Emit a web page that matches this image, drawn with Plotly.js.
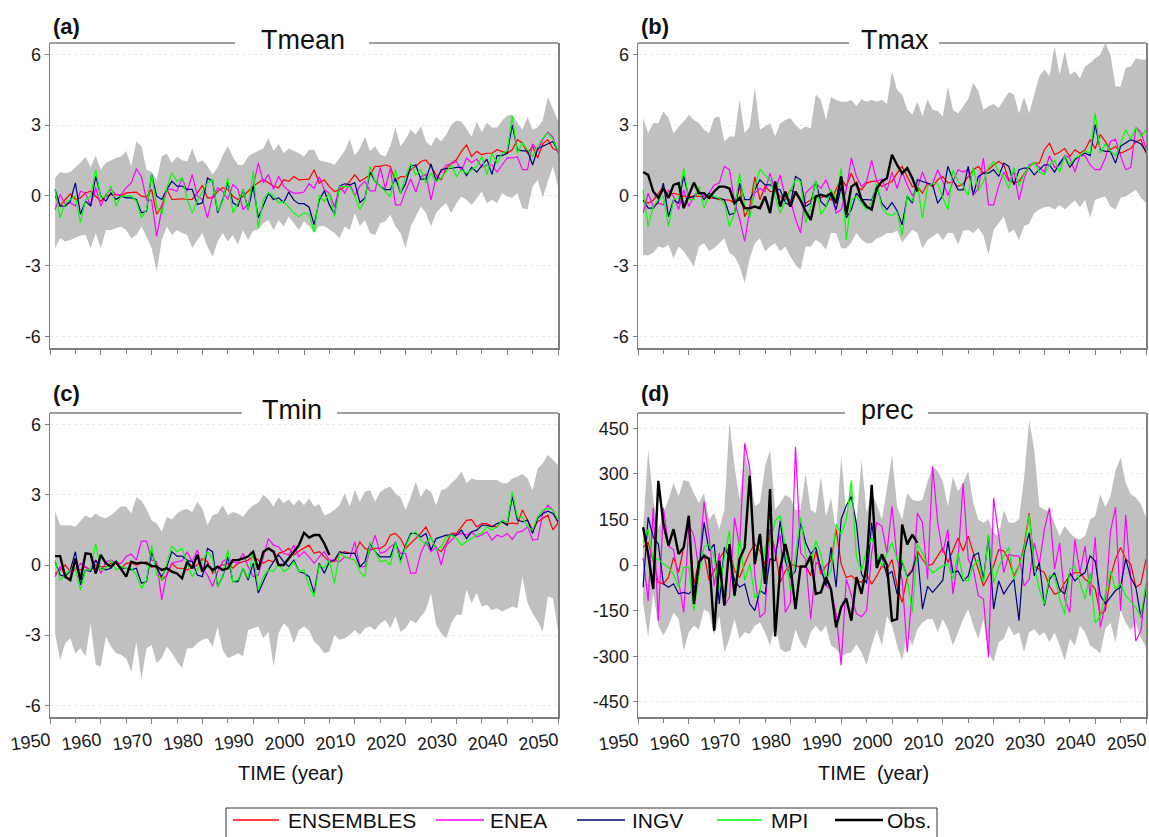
<!DOCTYPE html>
<html><head><meta charset="utf-8">
<script src="https://cdn.plot.ly/plotly-3.0.1.min.js"></script>
<style>html,body{margin:0;padding:0;background:#fff}#chart{width:1149px;height:837px}</style>
</head><body><div id="chart"></div>
<script>
// ---------------- DATA ----------------
const years = []; for (let y = 1951; y <= 2050; y++) years.push(y);
const obsYears = []; for (let y = 1951; y <= 2005; y++) obsYears.push(y);
const seriesNames = ["ENSEMBLES", "ENEA", "INGV", "MPI", "Obs."];
const panelTitles = ["Tmean", "Tmax", "Tmin", "prec"];
const panelLetters = ["(a)", "(b)", "(c)", "(d)"];
const tempTicks = [-6, -3, 0, 3, 6];
const tempTickText = ["-6", "-3", "0", "3", "6"];
const precTicks = [-450, -300, -150, 0, 150, 300, 450];
const precTickText = ["-450", "-300", "-150", "0", "150", "300", "450"];

// (a) Tmean
const tmeanLow = [-2.25,-1.82,-1.96,-1.9,-1.8,-1.7,-1.68,-2.25,-1.6,-2.25,
 -1.47,-1.47,-1.4,-1.32,-1.47,-1.82,-1.68,-1.32,-1.75,-2.25,
 -3.24,-1.9,-1.32,-1.68,-1.47,-1.6,-1.68,-2.25,-1.9,-1.6,
 -2.18,-2.6,-1.96,-1.6,-1.96,-1.68,-2.1,-1.47,-1.9,-1.5,
 -1.45,-1.18,-1.04,-1.47,-1.04,-1.32,-0.9,-1.18,-1.47,-1.1,
 -1.3,-1.6,-1.3,-1.3,-1.47,-1.6,-1.82,-1.32,-1.47,-0.75,
 -1.3,-1.04,-1.6,-1.68,-1.18,-1.1,-0.82,-1.32,-1.6,-2.25,
 -1.32,-0.9,-0.47,-0.75,-1.32,-0.75,-0.5,-0.33,-0.75,-0.33,
 -0.04,-0.18,-0.4,-0.12,0.17,-0.33,-0.18,-0.33,0.1,-0.04,
 -0.1,0.1,-0.54,-0.6,0.38,0.67,-0.1,0.6,1.24,0.38];
const tmeanHigh = [0.75,1.0,0.95,1.0,1.2,1.4,1.65,1.2,1.7,1.1,
 1.4,1.5,1.6,1.66,1.9,1.24,2.3,2.1,1.1,1.0,
 0.67,1.66,1.78,1.38,1.66,1.5,1.45,2.0,1.4,1.5,
 1.25,0.9,1.2,1.7,2.1,1.65,1.3,1.3,1.65,1.8,
 1.9,2.0,2.45,1.9,2.2,1.8,2.0,1.9,1.8,1.65,
 1.95,1.95,1.5,1.45,1.4,1.3,1.6,1.9,2.4,1.7,
 2.0,2.5,1.9,2.1,1.75,1.65,2.1,2.9,2.1,2.4,
 2.8,2.6,2.95,2.3,2.1,2.5,2.3,2.6,3.0,3.2,
 3.15,2.8,2.5,3.15,2.7,3.1,2.9,2.9,3.2,3.4,
 3.45,3.1,2.8,3.35,2.8,2.9,3.2,4.2,3.7,3.2];
const tmeanEns = [-0.03,-0.45,-0.17,0.07,-0.17,-0.1,0.11,0.18,-0.03,-0.24,
 -0.03,0.04,0.04,0,0.11,0.14,0.14,-0.03,-0.07,0.26,
 -0.8,-0.45,0.26,-0.17,-0.14,-0.14,-0.17,-0.17,0.11,0.43,
 -0.1,-0.1,0.18,0.33,0.26,-0.03,-0.17,-0.03,0.18,0.4,
 0.54,0.68,0.54,0.4,0.33,0.67,0.6,0.81,0.67,0.67,
 0.7,1.1,0.53,0.67,0.38,0.17,0.24,0.38,0.6,0.88,
 0.6,0.74,0.88,1.24,1.24,1.31,1.24,0.6,0.81,0.8,
 1.1,1.24,1.45,1.52,1.24,0.88,0.67,1.17,1.38,1.52,
 1.88,2.16,1.66,1.88,1.74,1.8,1.8,1.95,1.88,1.8,
 1.95,2.38,2.24,1.8,2.1,1.6,2.2,2.38,2.0,1.9];
const tmeanEnea = [-0.6,0.04,-0.38,-0.31,-0.45,0.18,0.11,-0.45,0.33,-0.45,
 0.04,0.26,0.04,0.04,0.33,0.54,1.14,0.8,-0.2,-0.2,
 -1.74,-0.6,0.26,0.26,0.18,0.75,0.18,0.9,-0.03,-0.17,
 -0.95,-0.03,0.33,0.18,-0.17,0.47,0.26,-0.6,-0.38,0.4,
 1.39,0.54,0.9,0.26,0.82,0.4,0.2,0.1,0.1,0.15,
 0.5,0.3,0.8,0.25,0.1,-0.5,0.4,0.1,0.5,0.0,
 0.4,0.6,0.2,0.2,1.2,0.3,1.15,-0.4,-0.4,0.2,
 0.7,0.15,0.8,0.9,-0.2,0.8,1.0,1.3,1.35,1.45,
 1.05,1.6,1.4,1.55,1.2,1.3,1.3,1.0,1.3,1.6,
 1.6,1.65,1.1,1.1,2.2,1.9,2.4,2.7,2.5,1.8];
const tmeanIngv = [0.26,-0.45,-0.45,-0.24,0.54,-0.8,-0.24,-0.45,0.82,-0.03,
 -0.24,0.11,-0.17,-0.03,-0.1,-0.1,-0.17,-0.74,-0.67,0.9,
 -0.03,-0.17,0.26,0.61,0.4,0.4,0.26,0.26,-0.38,-0.31,
 0.75,0.61,-0.74,-0.17,0.54,-0.31,-0.45,0.26,-0.6,0.4,
 -0.95,-0.45,0.1,-0.17,-0.1,-0.3,0.15,-0.2,-0.35,-0.35,
 -0.5,-1.25,-0.2,0.2,-0.4,-0.8,0.4,0.5,0.45,0.55,
 -0.3,-0.1,1.0,0.6,0.4,0.25,0.25,0.75,0.1,0.5,
 1.25,1.3,0.7,0.7,1.35,0.6,1.1,1.15,1.15,1.2,
 1.2,0.85,1.2,1.0,1.3,1.55,0.9,1.7,1.7,1.8,
 3.0,1.95,1.9,1.9,1.3,2.0,2.1,2.2,2.3,1.9];
const tmeanMpi = [0.26,-0.95,-0.31,-0.17,-0.03,-1.17,-0.17,-0.03,1.1,-0.1,
 -0.03,0.4,-0.45,-0.03,-0.03,-0.03,-0.24,-0.95,-0.6,0.9,
 -0.45,-0.8,0.33,0.97,0.61,0.75,-0.17,-0.74,-0.24,0.18,
 0.54,0.68,-0.67,-0.24,0.75,-0.74,-0.31,0.26,-0.6,1.04,
 -1.38,-0.17,0.11,-0.03,-0.31,-0.25,-0.5,-0.75,-0.9,-0.75,
 -0.8,-1.55,0.0,-0.25,0.1,-0.9,0.38,0.38,0.38,-0.03,
 -0.6,-0.2,1.24,0.6,0.38,0.2,-0.05,1.1,0.1,0.81,
 1.38,0.88,1.1,0.53,0.95,0.6,0.74,1.02,1.31,0.81,
 1.1,0.95,1.1,1.24,1.66,0.88,1.8,1.38,1.8,1.9,
 3.37,1.8,2.24,1.95,1.66,2.1,2.45,2.66,2.4,1.9];

// (b) Tmax
const tmaxLow = [-2.55,-2.55,-2.45,-2.17,-2.24,-2.1,-2.67,-2.17,-2.38,-2.73,
 -3.02,-2.17,-2.03,-2.38,-2.24,-2.03,-1.82,-2.45,-2.6,-3.02,
 -3.73,-2.67,-2.03,-1.82,-2.38,-2.17,-2.03,-2.38,-2.17,-2.6,
 -2.95,-3.16,-2.17,-2.17,-1.89,-2.03,-2.31,-1.6,-1.6,-2.25,
 -2.25,-2.0,-1.6,-1.89,-2.03,-2.03,-1.82,-1.75,-1.6,-1.6,
 -1.5,-2.0,-1.75,-1.46,-1.6,-2.25,-1.9,-1.75,-1.6,-1.9,
 -1.6,-1.6,-2.1,-1.5,-1.46,-1.6,-1.39,-1.7,-2.53,-1.46,
 -1.2,-0.9,-1.6,-1.46,-1.9,-1.3,-1.2,-0.75,-0.6,-0.5,
 -0.47,-0.6,-0.4,-0.6,-0.4,-0.2,-0.5,-0.18,-0.95,-0.18,
 -0.1,-0.04,-0.47,-0.6,-0.1,-0.04,0.1,0.24,-0.1,-0.33];
const tmaxHigh = [3.3,2.65,3.08,3.08,3.58,3.3,2.65,2.94,3.15,3.44,
 3.22,3.08,2.8,2.65,3.3,3.37,2.3,2.51,2.51,4.1,
 2.65,2.94,4.6,2.8,2.94,3.08,2.51,3.08,3.22,3.3,
 3.0,2.8,2.94,2.87,4.3,4.07,3.22,4.2,4.07,4.0,
 4.0,4.07,3.8,4.1,4.0,4.08,4.0,4.08,3.9,5.3,
 4.5,4.3,3.66,3.45,4.0,3.37,4.1,3.66,3.6,3.37,
 4.65,3.66,3.5,3.8,4.1,4.8,4.45,3.66,3.8,3.9,
 3.73,4.08,4.4,4.3,3.5,4.2,3.5,4.3,5.08,5.37,
 5.08,6.36,5.15,6.15,5.15,5.3,5.0,5.5,5.65,5.85,
 6.0,6.5,6.0,4.65,4.65,5.45,5.5,5.85,5.8,5.8];
const tmaxEns = [-0.2,-0.33,-0.2,0.1,0.38,-0.04,0.1,0.03,-0.04,-0.04,
 -0.04,-0.04,-0.04,-0.11,-0.11,-0.18,-0.18,-0.2,-0.33,0.38,
 -0.9,-0.47,0.8,-0.18,0.38,0.17,0.17,-0.04,-0.18,0.24,
 0.1,-0.25,-0.33,-0.2,-0.04,-0.1,0.0,-0.2,0.24,0.74,
 0.38,0.95,0.38,0.24,0.53,0.6,0.6,0.38,0.5,0.6,
 0.95,1.24,0.81,0.38,0.38,0.1,0.53,0.38,0.67,0.81,
 0.53,0.6,0.38,0.5,0.81,1.1,1.24,0.95,1.1,1.3,
 1.45,1.31,0.67,0.53,0.6,0.95,1.24,1.38,1.38,1.95,
 2.23,1.74,1.85,2.0,1.66,1.95,1.8,1.95,2.38,2.0,
 2.59,2.3,1.95,2.1,1.8,1.9,2.0,2.3,2.38,1.8];
const tmaxEnea = [-0.75,0.1,-0.47,-0.33,-0.4,0.24,-0.04,-0.6,0.24,-0.47,
 -0.04,0.24,-0.04,0.1,0.45,0.53,1.24,1.1,-0.26,-1.0,
 -1.96,-0.6,0.1,0.31,0.17,0.95,0.17,0.88,-0.11,-0.18,
 -1.0,-1.6,0.1,0.31,0.53,0.31,0.67,0.1,-0.75,-0.6,
 0.24,1.6,0.81,0.38,0.6,1.5,0.6,0.7,0.2,1.0,
 0.3,1.0,0.45,0.0,0.3,1.0,0.45,0.5,1.1,0.6,
 0.0,0.6,1.1,1.0,1.1,0.0,0.3,1.6,-0.4,-0.4,
 0.4,1.0,0.6,1.0,-0.2,0.7,1.3,1.4,1.2,1.0,
 1.7,1.2,1.3,1.7,1.6,1.0,1.7,1.7,1.3,1.1,
 1.1,1.6,2.3,2.4,1.7,1.1,1.2,2.9,2.7,2.0];
const tmaxIngv = [-0.2,-0.54,-0.54,-0.26,0.53,-0.9,-0.18,-0.33,0.84,-0.11,
 -0.04,0.17,-0.18,0.1,-0.11,-0.11,-0.18,-0.82,-0.75,0.53,
 -0.18,-0.18,0.24,0.67,0.45,0.45,0.31,0.24,-0.33,-0.4,
 0.81,0.67,-0.47,-0.33,0.6,-0.26,-0.47,0.03,-0.6,0.38,
 -0.96,-0.6,0.1,-0.18,-0.18,-0.2,0.38,-0.33,-0.6,-0.3,
 -0.65,-1.25,-0.04,-0.33,0.67,0.6,0.53,0.45,-0.33,0.0,
 1.24,0.67,0.24,0.24,1.24,0.03,0.81,0.95,0.95,1.1,
 0.81,1.38,1.24,0.45,1.1,1.17,1.17,0.88,1.1,1.31,
 1.3,1.0,1.38,1.66,1.2,1.52,1.7,1.8,1.7,3.02,
 1.95,1.88,1.88,1.38,2.1,2.24,2.38,2.3,2.2,1.88];
const tmaxMpi = [0.24,-1.32,-0.47,-0.18,-0.04,-1.32,-0.18,-0.11,1.16,-0.18,
 -0.18,0.38,-0.54,0.03,-0.04,-0.11,-0.33,-1.32,-0.75,0.95,
 -0.47,-0.96,0.38,1.12,0.88,0.67,-0.04,-0.75,-0.26,0.24,
 0.67,0.6,-1.18,-0.47,0.67,-0.82,-0.47,0.24,-0.18,1.16,
 -1.89,-0.18,-0.04,-0.33,-0.6,-0.3,0.5,-0.5,-0.8,-0.85,
 -0.7,-1.7,0.0,-0.25,0.5,-0.95,0.4,0.5,0.5,-0.1,
 -0.6,1.1,0.6,0.4,0.0,1.2,0.2,0.6,1.2,1.45,
 1.0,0.8,0.3,1.2,0.4,0.9,1.25,1.4,1.0,0.9,
 1.3,1.5,1.0,1.7,1.3,1.6,1.7,1.9,1.8,3.5,
 1.8,2.2,1.9,1.7,2.2,2.8,2.4,2.9,2.5,2.8];
const tmaxObs = [1.0,0.88,0.17,-0.1,0.3,-0.1,0.45,0.53,-0.54,0.0,
 0.55,0.1,0.1,-0.1,0.17,0.38,0.38,0.3,-0.33,-0.1,
 -0.54,-0.54,-0.47,-0.54,-0.04,-0.75,0.6,-0.47,0.17,-0.47,
 0.17,-0.2,-0.68,-1.04,-0.04,0.03,-0.04,0.1,-0.33,0.81,
 -0.82,0.38,0.53,-0.18,-0.47,-0.6,0.3,0.6,0.74,1.74,
 1.3,0.95,1.17,0.74,0.17];

// (c) Tmin
const tminLow = [-2.92,-4.06,-3.35,-3.13,-3.77,-3.56,-3.9,-2.49,-4.27,-4.34,
 -3.06,-3.49,-3.77,-3.84,-4.0,-4.56,-3.27,-4.9,-3.56,-3.42,
 -4.2,-3.98,-3.49,-3.77,-4.13,-4.4,-3.56,-3.56,-3.35,-3.2,
 -3.13,-3.49,-2.63,-3.63,-3.98,-3.9,-3.77,-3.9,-2.78,-2.7,
 -2.63,-3.13,-2.85,-4.34,-2.92,-2.49,-2.7,-3.35,-2.78,-2.63,
 -2.8,-3.27,-3.49,-3.77,-3.7,-2.99,-3.2,-3.13,-2.99,-2.78,
 -2.99,-2.7,-2.63,-2.78,-2.5,-2.35,-2.7,-2.2,-2.85,-2.7,
 -2.35,-2.49,-2.2,-1.92,-1.2,-2.56,-2.92,-3.13,-2.49,-2.13,
 -2.13,-1.06,-1.63,-1.2,-1.78,-1.7,-1.92,-1.85,-1.99,-1.9,
 -1.78,-1.85,-0.5,-1.63,-2.06,-2.41,-2.85,-1.35,-1.42,-2.78];
const tminHigh = [2.3,1.7,1.7,1.7,1.64,1.9,2.13,2.0,2.2,2.05,
 2.0,2.13,2.3,2.5,2.5,2.2,2.9,2.75,2.4,1.9,
 1.78,1.42,2.05,1.95,2.2,2.35,2.4,2.27,2.7,2.4,
 1.7,2.13,2.2,2.56,2.13,2.27,2.2,2.05,2.35,2.56,
 2.65,3.0,2.8,2.5,2.9,2.65,2.8,2.56,2.8,2.56,
 2.85,2.5,2.6,2.13,2.2,2.35,2.56,3.06,2.5,3.2,
 2.7,3.13,3.2,2.7,3.13,3.27,3.35,3.06,2.9,2.35,
 2.9,3.56,2.9,3.27,3.13,2.56,3.2,3.27,3.5,3.7,
 4.0,3.5,3.7,3.63,3.63,3.63,3.63,3.63,3.5,3.5,
 3.7,3.77,3.9,3.7,3.2,4.13,4.34,4.7,4.5,4.27];
const tminEns = [-0.36,-0.21,0.0,-0.28,-0.14,-0.21,-0.07,-0.21,0.0,-0.07,
 -0.07,0.07,0.07,-0.14,0.07,0.1,0.0,0.07,0.14,-0.1,
 0.0,-0.64,-0.43,0.07,-0.14,-0.14,-0.21,-0.1,0.0,0.28,
 0.14,-0.36,-0.07,0.0,0.07,-0.14,0.07,0.14,0.21,0.36,
 0.21,0.07,0.21,0.14,0.5,0.57,0.71,0.43,0.6,0.71,
 0.85,0.5,0.57,0.35,0.14,0.14,0.5,0.57,0.5,0.5,
 0.99,0.71,0.64,0.71,0.71,0.85,1.28,1.35,1.13,0.71,
 0.92,1.13,1.35,1.63,1.2,0.71,0.57,0.92,1.35,1.35,
 1.63,1.91,1.94,1.63,1.77,1.77,1.66,1.63,1.91,1.75,
 1.8,1.75,2.35,1.9,1.5,1.85,2.0,2.13,1.5,1.8];
const tminEnea = [-0.5,-0.07,-0.43,-0.28,-0.21,0.07,-0.1,-0.21,0.21,-0.36,
 0.14,0.21,0.07,0.07,0.36,0.47,0.21,1.02,1.02,0.21,
 0.14,-1.49,-0.36,0.07,0.14,0.18,0.57,0.14,0.64,-0.14,
 -0.43,-0.92,-0.28,0.14,0.28,0.14,0.07,0.5,-0.07,-0.5,
 -0.43,0.36,1.13,0.85,0.78,0.5,0.43,0.85,0.35,0.57,
 0.35,0.07,0.35,0.57,0.21,0.21,0.14,0.35,0.28,0.99,
 -0.07,-0.07,0.64,1.28,0.5,0.57,0.78,0.92,0.5,0.5,
 -0.35,-0.35,0.5,0.99,0.57,0.78,0.0,0.85,1.06,1.28,
 1.35,1.28,1.42,1.2,1.28,1.42,1.06,1.28,1.2,1.35,
 1.1,1.4,1.45,1.64,1.07,1.1,2.2,2.56,2.35,1.78];
const tminIngv = [0.14,-0.43,-0.5,-0.21,0.57,-0.85,-0.21,-0.28,0.21,-0.14,
 -0.21,-0.14,0.14,-0.14,-0.14,-0.21,-0.14,-0.78,-0.71,0.57,
 -0.14,-0.5,-0.07,0.57,0.38,0.38,0.21,0.14,-0.43,-0.5,
 0.71,0.57,-0.92,-0.5,0.36,-0.71,-0.71,-0.14,-0.64,0.07,
 -1.2,-0.71,-0.21,0.14,0.43,0.14,-0.07,0.21,-0.28,-0.35,
 -0.5,-1.2,0.07,-0.35,0.14,0.21,0.57,0.5,0.5,0.5,
 -0.07,0.14,0.92,0.57,0.35,0.35,0.35,0.99,0.21,0.85,
 1.35,1.35,1.2,1.35,0.64,1.13,1.2,1.28,1.28,1.28,
 1.49,1.13,1.42,1.49,1.7,1.7,1.63,1.77,1.84,1.7,
 2.92,1.92,1.85,1.92,1.35,2.0,2.2,2.3,2.2,1.85];
const tminMpi = [0.21,-0.64,-0.43,-0.21,-0.14,-1.07,-0.21,-0.21,0.92,-0.21,
 -0.14,0.21,-0.21,-0.07,-0.14,-0.14,-0.43,-1.0,-0.64,0.85,
 -0.43,-0.64,0.07,0.81,0.57,0.71,0.07,-0.5,-0.21,0.14,
 0.57,0.28,-0.92,-0.5,0.64,-0.71,-0.64,-0.14,-0.57,0.57,
 -1.07,-0.5,-0.21,-0.28,0.07,-0.28,-0.14,0.14,-0.28,-0.21,
 -0.92,-1.35,0.0,-0.14,0.21,-0.78,0.5,0.35,0.28,0.21,
 -0.28,-0.5,0.99,0.57,0.14,0.21,0.0,0.99,0.07,0.78,
 1.28,1.42,1.06,0.85,1.2,0.64,0.78,1.2,1.28,1.13,
 0.85,0.99,1.13,1.28,1.35,1.63,1.49,1.63,1.91,1.8,
 3.13,2.06,2.06,1.63,1.5,2.06,2.35,2.42,2.35,1.92];
const tminObs = [0.38,0.38,-0.5,-0.64,0.28,-0.64,0.5,0.47,-0.36,0.43,
 0.07,-0.07,0.14,-0.21,-0.5,0.14,0.07,0.1,0.07,-0.04,
 -0.07,-0.21,-0.14,-0.28,-0.36,-0.57,0.14,-0.14,0.43,-0.28,
 0.0,-0.21,-0.07,-0.21,-0.14,0.21,0.21,0.28,0.36,0.57,
 -0.2,0.57,0.71,0.57,0.0,0.0,0.3,0.6,0.85,1.38,
 1.17,1.28,1.28,0.92,0.43];

// (d) prec
const precLow = [-123,-238,-91,-200,-232,-200,-156,-178,-281,-221,
 -200,-211,-145,-156,-230,-167,-287,-243,-178,-243,
 -221,-227,-200,-189,-221,-265,-194,-276,-287,-281,
 -211,-254,-276,-221,-200,-221,-200,-265,-276,-298,
 -292,-287,-260,-287,-330,-265,-211,-265,-167,-200,
 -265,-314,-221,-265,-211,-189,-178,-178,-221,-178,
 -211,-265,-221,-178,-145,-200,-243,-178,-287,-320,
 -254,-243,-200,-232,-221,-287,-221,-211,-232,-221,
 -254,-221,-265,-314,-243,-265,-200,-221,-265,-276,
 -292,-210,-190,-255,-150,-190,-215,-190,-240,-270];
const precHigh = [117,379,215,117,171,215,270,226,280,275,
 236,204,236,150,171,117,182,471,324,215,
 368,308,193,204,324,379,182,204,231,220,
 182,182,302,182,171,291,160,220,106,357,
 171,259,139,346,171,237,200,150,250,362,
 193,150,237,215,210,215,275,324,308,275,
 193,291,242,270,308,204,150,139,150,106,
 95,182,139,139,150,286,477,379,193,182,
 177,139,95,128,106,90,84,95,150,160,
 233,190,226,310,354,270,233,222,200,157];
const precEns = [58,74,14,-57,-62,-41,25,-24,60,140,
 -62,14,36,-51,-19,20,47,53,-19,-41,
 3,42,69,47,3,118,47,-57,-20,3,
 -2,-8,-2,-35,47,-30,-2,14,118,3,
 -41,-35,-51,-57,-30,-63,-36,-3,-14,18,
 -69,-123,-36,-14,46,18,-3,3,30,57,
 8,51,89,46,95,40,-14,-69,-36,-3,
 51,46,18,-36,-3,62,171,-3,-14,-25,
 -69,-96,-90,-58,-36,-25,-25,-47,-58,-79,
 -161,-150,-41,20,58,20,3,-73,-62,20];
const precEnea = [24,-118,188,-183,188,62,51,-47,-156,133,
 95,-14,209,89,-69,40,-134,-107,155,62,
 400,318,-36,-172,-156,117,40,100,-156,-124,
 389,40,19,-178,8,-3,-69,-80,-161,-330,
 -47,-100,-160,-170,-150,40,139,128,40,193,
 19,-47,-287,-80,171,139,-47,324,139,40,
 117,-96,19,270,19,-14,-101,-112,-303,220,
 106,-25,35,30,30,-69,-47,73,2,117,
 188,-14,73,-112,-156,84,-25,62,-101,91,
 -205,-128,110,190,-150,165,-50,-250,-216,-60];
const precIngv = [-73,157,91,69,-62,-73,-62,-95,-90,-95,
 -79,-19,140,47,69,-128,58,25,-50,-73,
 -62,-128,-150,-84,-95,20,14,146,14,-41,
 -20,140,74,36,58,-13,-68,58,-73,151,
 195,225,135,-30,-60,139,10,30,-36,-20,
 -96,10,-40,-20,40,-145,-70,-90,-70,-50,
 79,-25,-20,-52,-36,30,40,-47,95,-145,
 -52,-96,-69,-47,-183,40,106,-36,8,-134,
 -47,-25,-80,-96,-25,-52,-36,-25,30,13,
 -100,-128,-106,-84,-73,20,-41,-73,-172,-84];
const precMpi = [74,118,14,20,3,-8,-30,-73,-8,-8,
 -150,-30,58,69,25,-84,25,113,-106,91,
 -50,3,-106,-95,58,74,146,162,58,-84,
 25,157,36,3,80,36,-51,-19,135,100,
 150,277,25,-19,50,90,40,-3,36,73,
 18,14,-46,-156,68,40,-3,-25,-14,-3,
 3,-47,40,-47,-52,-3,18,-58,100,-58,
 -8,30,57,-47,-3,51,166,-3,-80,-129,
 -36,-36,-112,-161,-14,-3,-58,-112,-25,-190,
 -170,-100,-20,-80,-60,-100,-120,-140,-170,-60];
const precObs = [124,36,-79,277,135,64,118,36,58,162,
 -128,10,30,20,-216,14,-134,69,-101,20,
 58,293,3,102,-62,250,-235,-10,69,-3,
 -145,-5,-5,30,-95,-90,-40,-80,-205,-139,
 -110,-183,-40,-95,0,264,-10,35,0,-183,
 -178,133,68,100,73];

// ---------------- STYLE / LAYOUT ----------------
const W = 1149, H = 837;
const FONT = "Liberation Sans, Arial, Helvetica, sans-serif";
const seriesColors = ["#ff0000", "#ff00ff", "#00007f", "#00ff00", "#000000"];
const seriesWidths = [1.2, 1.2, 1.2, 1.2, 2.4];
const axisGray = "#7f7f7f";
const bandColor = "#c0c0c0";
const X = v => v / W, Y = v => 1 - v / H;

const panels = [
  {low: tmeanLow, high: tmeanHigh, models: [tmeanEns, tmeanEnea, tmeanIngv, tmeanMpi], obs: null,
   x0: 50, x1: 558, y0: 43, y1: 348, range: [-6.5, 6.5], tv: tempTicks, tt: tempTickText,
   gap: [235, 369], titleX: 303, titleY: 39.5, letterY: 27, labels: false},
  {low: tmaxLow, high: tmaxHigh, models: [tmaxEns, tmaxEnea, tmaxIngv, tmaxMpi], obs: tmaxObs,
   x0: 638, x1: 1146, y0: 43, y1: 348, range: [-6.5, 6.5], tv: tempTicks, tt: tempTickText,
   gap: [849, 939], titleX: 895, titleY: 39.5, letterY: 27, labels: false},
  {low: tminLow, high: tminHigh, models: [tminEns, tminEnea, tminIngv, tminMpi], obs: tminObs,
   x0: 50, x1: 558, y0: 413, y1: 717, range: [-6.5, 6.5], tv: tempTicks, tt: tempTickText,
   gap: [242, 337], titleX: 292, titleY: 409.5, letterY: 394, labels: true, xtitle: "TIME (year)", xtitleX: 291},
  {low: precLow, high: precHigh, models: [precEns, precEnea, precIngv, precMpi], obs: precObs,
   x0: 638, x1: 1146, y0: 413, y1: 717, range: [-500, 500], tv: precTicks, tt: precTickText,
   gap: [845, 928], titleX: 887, titleY: 409.5, letterY: 394, labels: true, xtitle: "TIME\u00a0\u00a0(year)", xtitleX: 873}
];

const data = [];
const layout = {
  width: W, height: H, margin: {l: 0, r: 0, t: 0, b: 0},
  paper_bgcolor: "#fff", plot_bgcolor: "#fff",
  font: {family: FONT, color: "#1a1a1a"},
  showlegend: false,
  shapes: [], annotations: []
};

panels.forEach((p, i) => {
  const n = i + 1;
  const xa = n === 1 ? "x" : "x" + n, ya = n === 1 ? "y" : "y" + n;
  const xKey = n === 1 ? "xaxis" : "xaxis" + n, yKey = n === 1 ? "yaxis" : "yaxis" + n;
  data.push({x: years, y: p.low, xaxis: xa, yaxis: ya, mode: "lines", line: {width: 0, color: bandColor},
             showlegend: false, hoverinfo: "skip"});
  data.push({x: years, y: p.high, xaxis: xa, yaxis: ya, mode: "lines", line: {width: 0, color: bandColor},
             fill: "tonexty", fillcolor: bandColor, showlegend: false, hoverinfo: "skip"});
  p.models.forEach((s, k) => {
    data.push({x: years, y: s, xaxis: xa, yaxis: ya, mode: "lines", name: seriesNames[k],
               line: {color: seriesColors[k], width: seriesWidths[k]}});
  });
  if (p.obs) {
    data.push({x: obsYears, y: p.obs, xaxis: xa, yaxis: ya, mode: "lines", name: seriesNames[4],
               line: {color: seriesColors[4], width: seriesWidths[4]}});
  }
  layout[xKey] = {
    domain: [X(p.x0), X(p.x1)], anchor: ya, range: [1950, 2050],
    tickmode: "linear", tick0: 1950, dtick: 10, ticks: "outside", ticklen: 5, tickwidth: 1, tickcolor: axisGray,
    minor: {ticks: "outside", tickmode: "linear", tick0: 1950, dtick: 5, ticklen: 4, tickcolor: axisGray, showgrid: false},
    showline: true, linecolor: axisGray, linewidth: 1.5, mirror: false, showgrid: false, zeroline: false,
    showticklabels: p.labels, tickangle: -8, ticklabelstandoff: 0,
    tickfont: {family: FONT, size: 18, color: "#1a1a1a"}, fixedrange: true
  };
  layout[yKey] = {
    domain: [Y(p.y1), Y(p.y0)], anchor: xa, range: p.range,
    tickmode: "array", tickvals: p.tv, ticktext: p.tt, ticks: "outside", ticklen: 4, tickwidth: 1, tickcolor: axisGray,
    showline: true, linecolor: axisGray, linewidth: 1.5, mirror: true, zeroline: false,
    showgrid: true, gridcolor: "#ebebeb", griddash: "dot", gridwidth: 1,
    tickfont: {family: FONT, size: 18, color: "#1a1a1a"}, fixedrange: true
  };
  // top border, interrupted by the panel title
  layout.shapes.push({type: "line", xref: "paper", yref: "paper", x0: X(p.x0), x1: X(p.gap[0]), y0: Y(p.y0), y1: Y(p.y0),
                      line: {color: axisGray, width: 1.5}});
  layout.shapes.push({type: "line", xref: "paper", yref: "paper", x0: X(p.gap[1]), x1: X(p.x1), y0: Y(p.y0), y1: Y(p.y0),
                      line: {color: axisGray, width: 1.5}});
  layout.annotations.push({xref: "paper", yref: "paper", x: X(p.titleX), y: Y(p.titleY), text: panelTitles[i],
                           showarrow: false, xanchor: "center", yanchor: "middle",
                           font: {family: FONT, size: 27, color: "#111"}});
  layout.annotations.push({xref: "paper", yref: "paper", x: X(p.x0 + 1), y: Y(p.letterY), text: "<b>" + panelLetters[i] + "</b>",
                           showarrow: false, xanchor: "left", yanchor: "middle",
                           font: {family: FONT, size: 22, color: "#111"}});
  if (p.xtitle) {
    layout.annotations.push({xref: "paper", yref: "paper", x: X(p.xtitleX), y: Y(773), text: p.xtitle,
                             showarrow: false, xanchor: "center", yanchor: "middle",
                             font: {family: FONT, size: 20, color: "#111"}});
  }
});

// ---------------- LEGEND (drawn box with line keys and text) ----------------
const legendLineX = [[233, 279], [436, 484], [577, 625], [717, 762], [835, 883]];
const legendTextX = [286, 488, 630, 769, 885];
const legendY = 820;
layout.shapes.push({type: "rect", xref: "paper", yref: "paper", x0: X(226), x1: X(937), y0: Y(808), y1: Y(860),
                    line: {color: "#333", width: 1}, fillcolor: "rgba(0,0,0,0)"});
seriesNames.forEach((nm, k) => {
  layout.shapes.push({type: "line", xref: "paper", yref: "paper", x0: X(legendLineX[k][0]), x1: X(legendLineX[k][1]),
                      y0: Y(legendY), y1: Y(legendY), line: {color: seriesColors[k], width: k === 4 ? 2.4 : 1.3}});
  layout.annotations.push({xref: "paper", yref: "paper", x: X(legendTextX[k]), y: Y(legendY), text: nm,
                           showarrow: false, xanchor: "left", yanchor: "middle",
                           font: {family: FONT, size: 21, color: "#111"}});
});

Plotly.newPlot("chart", data, layout, {staticPlot: true, displayModeBar: false});
</script></body></html>
